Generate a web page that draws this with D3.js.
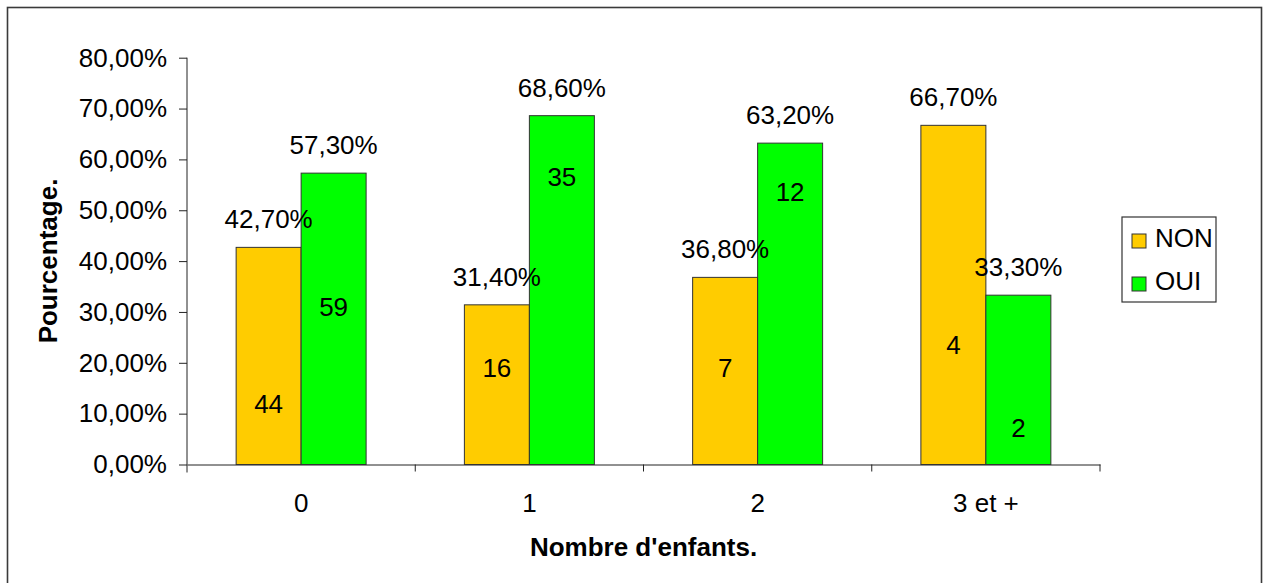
<!DOCTYPE html>
<html>
<head>
<meta charset="utf-8">
<script src="https://cdn.jsdelivr.net/npm/d3@7"></script>
<style>
  body { margin: 0; background: #fff; }
  text { font-family: "Liberation Sans", Arial, sans-serif; }
</style>
</head>
<body>
<div id="chart"></div>
<script>
// chart data
var categories = ["0", "1", "2", "3 et +"];
var seriesNames = ["NON", "OUI"];
var nonValues = [0.427, 0.314, 0.368, 0.667];
var ouiValues = [0.573, 0.686, 0.632, 0.333];
var nonCounts = [44, 16, 7, 4];
var ouiCounts = [59, 35, 12, 2];
// where the count labels sit, in axis units
var nonCountLevel = [0.119, 0.19, 0.19, 0.235];
var ouiCountLevel = [0.31, 0.567, 0.536, 0.072];
var yTicks = [0, 0.1, 0.2, 0.3, 0.4, 0.5, 0.6, 0.7, 0.8];

var colors = { NON: "#FFCC00", OUI: "#00FF00" };

var svgWidth = 1265;
var svgHeight = 583;
var fontSize = 26;

// plot area
var margin = { top: 57.7, left: 187, right: 165, bottom: 118.5 };
var width = svgWidth - margin.left - margin.right;
var height = svgHeight - margin.top - margin.bottom;

var fr = d3.formatLocale({ decimal: ",", thousands: " ", grouping: [3], currency: ["", " €"] });
var pct = fr.format(".2%");

var svg = d3.select("#chart")
    .append("svg")
    .attr("width", svgWidth)
    .attr("height", svgHeight);

// outer frame
svg.append("rect")
    .attr("x", 7.5)
    .attr("y", 7.5)
    .attr("width", 1254)
    .attr("height", 600)
    .attr("fill", "none")
    .attr("stroke", "#3a3a3a")
    .attr("stroke-width", 1.6);

var chartGroup = svg.append("g")
    .attr("transform", `translate(${margin.left}, ${margin.top})`);

var x0 = d3.scaleBand()
    .domain(categories)
    .range([0, width]);

var x1 = d3.scaleBand()
    .domain(seriesNames)
    .range([0, x0.bandwidth()])
    .paddingInner(0)
    .paddingOuter(0.756);

var y = d3.scaleLinear()
    .domain([0, 0.8])
    .range([height, 0]);

// y axis
var leftAxis = d3.axisLeft(y)
    .tickValues(yTicks)
    .tickFormat(pct)
    .tickSizeInner(8)
    .tickSizeOuter(0)
    .tickPadding(12);

var yAxis = chartGroup.append("g").call(leftAxis);
yAxis.select(".domain").attr("d", `M0,0V${height + 8}`);
yAxis.selectAll("text")
    .attr("font-size", fontSize)
    .attr("font-family", "Liberation Sans, Arial, sans-serif")
    .attr("fill", "#000");
yAxis.selectAll("line, path").attr("stroke", "#222");

// x axis: labels centred, ticks between categories
var bottomAxis = d3.axisBottom(x0)
    .tickSize(0)
    .tickPadding(29);

var xAxis = chartGroup.append("g")
    .attr("transform", `translate(0, ${height})`)
    .call(bottomAxis);
xAxis.select(".domain").attr("stroke", "#222");
xAxis.selectAll("text")
    .attr("font-size", fontSize)
    .attr("font-family", "Liberation Sans, Arial, sans-serif")
    .attr("fill", "#000");

xAxis.selectAll(".sep")
    .data(categories.slice(1).concat(["end"]))
    .enter()
    .append("line")
    .attr("class", "sep")
    .attr("x1", (d, i) => i < categories.length - 1 ? x0(d) : width)
    .attr("x2", (d, i) => i < categories.length - 1 ? x0(d) : width)
    .attr("y1", 0)
    .attr("y2", 7)
    .attr("stroke", "#222");

// bars
var rows = categories.map((c, i) => ({
    cat: c,
    vals: [
        { s: "NON", v: nonValues[i], n: nonCounts[i], lvl: nonCountLevel[i] },
        { s: "OUI", v: ouiValues[i], n: ouiCounts[i], lvl: ouiCountLevel[i] }
    ]
}));

var groups = chartGroup.selectAll(".grp")
    .data(rows)
    .enter()
    .append("g")
    .attr("class", "grp")
    .attr("transform", d => `translate(${x0(d.cat)}, 0)`);

var bars = groups.selectAll(".bar")
    .data(d => d.vals)
    .enter();

bars.append("rect")
    .attr("x", d => x1(d.s))
    .attr("y", d => y(d.v))
    .attr("width", x1.bandwidth())
    .attr("height", d => height - y(d.v))
    .attr("fill", d => colors[d.s])
    .attr("stroke", "#333")
    .attr("stroke-width", 1);

// percentage labels above bars
bars.append("text")
    .attr("x", d => x1(d.s) + x1.bandwidth() / 2)
    .attr("y", d => y(d.v) - 19)
    .attr("text-anchor", "middle")
    .attr("font-size", fontSize)
    .text(d => pct(d.v));

// counts inside bars
bars.append("text")
    .attr("x", d => x1(d.s) + x1.bandwidth() / 2)
    .attr("y", d => y(d.lvl))
    .attr("dy", "0.36em")
    .attr("text-anchor", "middle")
    .attr("font-size", fontSize)
    .text(d => d.n);

// axis titles
chartGroup.append("text")
    .attr("x", width / 2)
    .attr("y", height + 92)
    .attr("text-anchor", "middle")
    .attr("font-size", fontSize)
    .attr("font-weight", "bold")
    .text("Nombre d'enfants.");

svg.append("text")
    .attr("transform", "rotate(-90)")
    .attr("x", -261)
    .attr("y", 57)
    .attr("text-anchor", "middle")
    .attr("font-size", fontSize)
    .attr("font-weight", "bold")
    .text("Pourcentage.");

// legend
var legend = svg.append("g")
    .attr("transform", "translate(1122, 217)");

legend.append("rect")
    .attr("width", 94)
    .attr("height", 85)
    .attr("fill", "#fff")
    .attr("stroke", "#333")
    .attr("stroke-width", 1.2);

var items = legend.selectAll(".item")
    .data(seriesNames)
    .enter()
    .append("g")
    .attr("transform", (d, i) => `translate(10, ${17 + i * 43})`);

items.append("rect")
    .attr("width", 14)
    .attr("height", 14)
    .attr("fill", d => colors[d])
    .attr("stroke", "#333");

items.append("text")
    .attr("x", 23)
    .attr("y", 13)
    .attr("font-size", fontSize)
    .text(d => d);
</script>
</body>
</html>
